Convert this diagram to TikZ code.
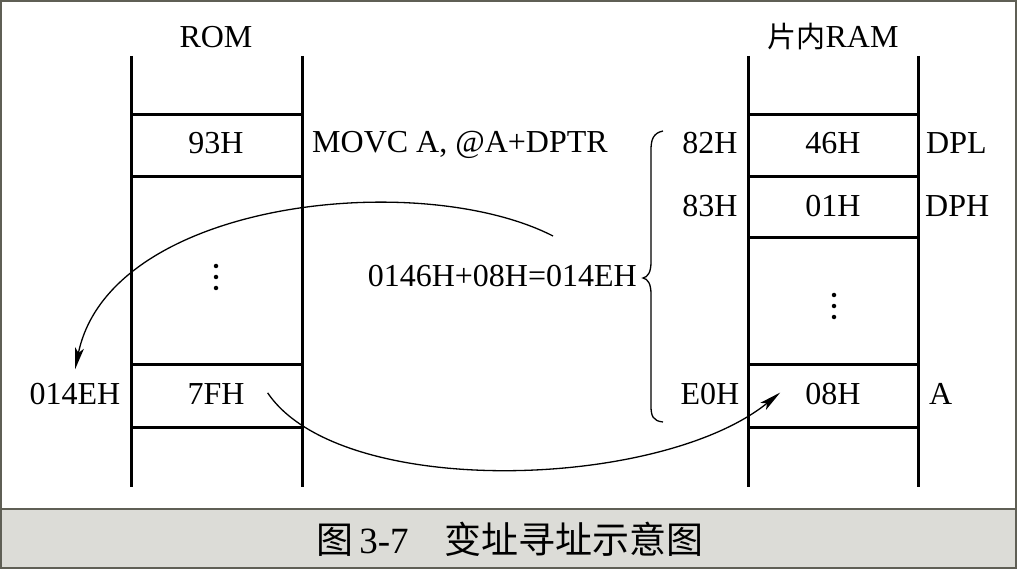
\documentclass[tikz,border=0pt]{standalone}
\usepackage{fontspec}
\setmainfont{Liberation Serif}
\newfontfamily\cjk{Noto Sans CJK SC}
\usetikzlibrary{arrows.meta}
\definecolor{capfill}{RGB}{220,220,215}
\definecolor{frame}{RGB}{95,95,85}
\begin{document}
\begin{tikzpicture}[x=1pt,y=-1pt,
  font=\fontsize{32}{38}\selectfont,
  col/.style={line width=3pt},
  txt/.style={inner sep=0pt, anchor=base},
  txtw/.style={inner sep=0pt, anchor=base west},
  txte/.style={inner sep=0pt, anchor=base east},
  dot/.style={fill, circle, inner sep=0pt, minimum size=4.5pt},
  arr/.style={line width=1.3pt,-{Stealth[length=22pt,width=9pt,inset=5pt]}},
  brace/.style={line width=1.3pt}]
\useasboundingbox (0,0) rectangle (1017,569);
% caption band and frame
\fill[capfill] (1,509) rectangle (1016,568);
\draw[frame,line width=2pt] (1,1) rectangle (1016,568);
\draw[frame,line width=2pt] (1,509) -- (1016,509);
% ROM column
\draw[col] (131,56) -- (131,487);
\draw[col] (302,56) -- (302,487);
\foreach \y in {115,177,364,427} \draw[col] (131,\y) -- (302,\y);
% RAM column
\draw[col] (748,56) -- (748,487);
\draw[col] (918,56) -- (918,487);
\foreach \y in {115,177,238,364,427} \draw[col] (748,\y) -- (918,\y);
% labels
\node[txt] (rom) at (216,48) {ROM};
\node[txt] (ram) at (833,48) {{\cjk\fontsize{29}{32}\selectfont 片内}RAM};
\node[txt] (r93) at (216,154) {93H};
\node[txtw] (movc) at (312,153) {MOVC A, @A+DPTR};
\foreach \y [count=\i] in {266,277,288} \node[dot] (rd\i) at (216,\y) {};
\node[txt] (r7f) at (216,404) {7FH};
\node[txt] (a14e) at (75,404) {014EH};
\node[txte] (form) at (637,287) {0146H+08H=014EH};
\node[txt] (a82) at (710,154) {82H};
\node[txt] (v46) at (833,154) {46H};
\node[txtw] (dpl) at (926,154) {DPL};
\node[txt] (a83) at (710,217) {83H};
\node[txt] (v01) at (833,217) {01H};
\node[txtw] (dph) at (925,217) {DPH};
\foreach \y [count=\i] in {295,306,317} \node[dot] (md\i) at (834,\y) {};
\node[txt] (ae0) at (710,404) {E0H};
\node[txt] (v08) at (833,404) {08H};
\node[txtw] (acc) at (929,404) {A};
% brace
\draw[brace] (663,131) .. controls (653,133) and (651,140) .. (651,150) -- (651,262)
  .. controls (651,272) and (648,277) .. (643,278)
  .. controls (648,279) and (651,284) .. (651,294) -- (651,406)
  .. controls (651,416) and (653,421) .. (663,422);
% arrows
\coordinate (s1) at (553,236);
\coordinate (t1) at ([yshift=13pt]a14e.north);
\draw[arr] (s1) .. controls (420,168) and (110,200) .. (t1);
\coordinate (s2) at ([xshift=23pt,yshift=-10pt]r7f.north east);
\coordinate (t2) at ([xshift=-25pt,yshift=-10pt]v08.north west);
\draw[arr] (s2) .. controls (340,500) and (660,490) .. (t2);
% caption
\node[txt,font=\fontsize{37}{40}\selectfont] (cap) at (510,553)
  {{\cjk 图}\hspace{6pt}3-7\hspace{36pt}{\cjk 变址寻址示意图}};
\end{tikzpicture}
\end{document}
